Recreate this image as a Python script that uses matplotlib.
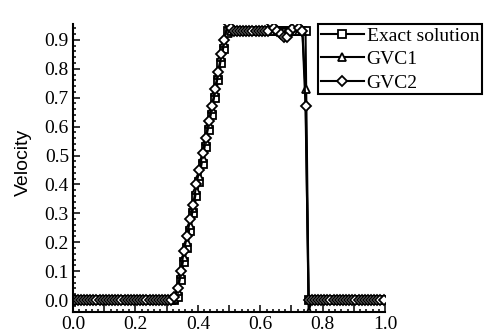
import numpy as np
import matplotlib
matplotlib.use('Agg')
import matplotlib.pyplot as plt
from matplotlib.ticker import MultipleLocator, FuncFormatter

# cell centres, 100 cells on [0, 1]
x = np.arange(100) * 0.01 + 0.005

exact = [0, 0, 0, 0, 0, 0, 0, 0, 0, 0,
         0, 0, 0, 0, 0, 0, 0, 0, 0, 0,
         0, 0, 0, 0, 0, 0, 0, 0, 0, 0,
         0, 0, 0, 0.01, 0.07, 0.13, 0.18, 0.24, 0.30, 0.36,
         0.41, 0.47, 0.53, 0.59, 0.64, 0.70, 0.76, 0.82, 0.87, 0.93,
         0.93, 0.93, 0.93, 0.93, 0.93, 0.93, 0.93, 0.93, 0.93, 0.93,
         0.93, 0.93, 0.93, 0.93, 0.93, 0.93, 0.93, 0.93, 0.93, 0.93,
         0.93, 0.93, 0.93, 0.93, 0.93, 0, 0, 0, 0, 0,
         0, 0, 0, 0, 0, 0, 0, 0, 0, 0,
         0, 0, 0, 0, 0, 0, 0, 0, 0, 0]

gvc1 = [0, 0, 0, 0, 0, 0, 0, 0, 0, 0,
        0, 0, 0, 0, 0, 0, 0, 0, 0, 0,
        0, 0, 0, 0, 0, 0, 0, 0, 0, 0,
        0, 0, 0.005, 0.03, 0.09, 0.15, 0.20, 0.26, 0.32, 0.38,
        0.43, 0.49, 0.55, 0.61, 0.66, 0.72, 0.78, 0.84, 0.89, 0.925,
        0.93, 0.93, 0.93, 0.93, 0.93, 0.93, 0.93, 0.93, 0.93, 0.93,
        0.93, 0.93, 0.93, 0.93, 0.93, 0.93, 0.93, 0.93, 0.93, 0.93,
        0.93, 0.93, 0.93, 0.93, 0.73, -0.04, 0, 0, 0, 0,
        0, 0, 0, 0, 0, 0, 0, 0, 0, 0,
        0, 0, 0, 0, 0, 0, 0, 0, 0, 0]

gvc2 = [0, 0, 0, 0, 0, 0, 0, 0, 0, 0,
        0, 0, 0, 0, 0, 0, 0, 0, 0, 0,
        0, 0, 0, 0, 0, 0, 0, 0, 0, 0,
        0, 0, 0.01, 0.04, 0.10, 0.17, 0.22, 0.28, 0.33, 0.40,
        0.45, 0.51, 0.56, 0.62, 0.67, 0.73, 0.79, 0.85, 0.90, 0.96,
        0.94, 0.93, 0.93, 0.93, 0.93, 0.93, 0.93, 0.93, 0.93, 0.93,
        0.93, 0.93, 0.93, 0.96, 0.94, 0.93, 0.92, 0.91, 0.91, 0.93,
        0.94, 0.96, 0.94, 0.93, 0.67, 0, 0, 0, 0, 0,
        0, 0, 0, 0, 0, 0, 0, 0, 0, 0,
        0, 0, 0, 0, 0, 0, 0, 0, 0, 0]

labels = ["Exact solution", "GVC1", "GVC2"]

serif = 'Liberation Serif'

fig = plt.figure(figsize=(4.84, 3.30), dpi=100)
ax = fig.add_axes([0.151, 0.0545, 0.6446, 0.8727])

mk = dict(color='black', lw=1.5, mfc='white', mec='black', mew=1.3)
ax.plot(x, exact, marker='s', ms=6, label=labels[0], **mk)
ax.plot(x, gvc1, marker='^', ms=6, label=labels[1], **mk)
ax.plot(x, gvc2, marker='D', ms=5.5, label=labels[2], **mk)

ax.set_xlim(0, 1.0)
ax.set_ylim(-0.0415, 0.955)

ax.spines['top'].set_visible(False)
ax.spines['right'].set_visible(False)
ax.spines['left'].set_linewidth(1.5)
ax.spines['bottom'].set_linewidth(1.5)

ax.xaxis.set_major_locator(MultipleLocator(0.1))
ax.xaxis.set_minor_locator(MultipleLocator(0.02))
ax.xaxis.set_major_formatter(FuncFormatter(
    lambda v, p: ('%.1f' % v) if round(v * 10) % 2 == 0 else ''))
ax.yaxis.set_major_locator(MultipleLocator(0.1))
ax.yaxis.set_minor_locator(MultipleLocator(0.02))
ax.yaxis.set_major_formatter(FuncFormatter(lambda v, p: '%.1f' % v))

ax.tick_params(which='both', direction='in', width=1.1, color='black')
ax.tick_params(which='major', length=5, pad=3)
ax.tick_params(which='minor', length=2.5)
for t in ax.get_xticklabels() + ax.get_yticklabels():
    t.set_fontfamily(serif)
    t.set_fontsize(14)

ax.set_ylabel("Velocity", fontfamily='Liberation Sans', fontsize=14)
ax.yaxis.set_label_coords(-0.131, 0.52)

leg = ax.legend(loc='upper left', bbox_to_anchor=(0.657, 0.927),
                bbox_transform=fig.transFigure, borderaxespad=0,
                prop={'family': serif, 'size': 14}, frameon=True,
                fancybox=False, edgecolor='black', framealpha=1,
                handlelength=2.2, handletextpad=0.15, labelspacing=0.3,
                borderpad=0.15)
leg.get_frame().set_linewidth(1.5)

plt.savefig('out.png', dpi=100)
